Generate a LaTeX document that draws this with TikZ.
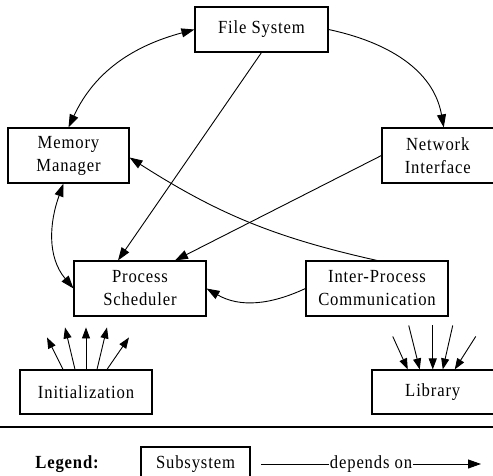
\documentclass[tikz,border=0pt]{standalone}
\usepackage{fontspec}
\setmainfont{Liberation Serif}[LetterSpace=4.6,FakeStretch=0.9]
\usepackage{tikz}
\usetikzlibrary{arrows.meta}
\newcommand{\boxfont}{\fontsize{18.5}{23}\selectfont}
\tikzstyle{subsystem}=[rectangle,draw=black,line width=1.1pt,align=center,inner sep=0pt,font=\boxfont]
\tikzstyle{dep}=[draw,line width=0.9pt,-{Triangle[length=13pt,width=9pt]}]
\tikzstyle{mutualdep}=[draw,line width=0.9pt,{Triangle[length=13pt,width=9pt]}-{Triangle[length=13pt,width=9pt]}]
\tikzstyle{fan}=[draw,line width=0.9pt,-{Triangle[length=11pt,width=8pt]}]

\begin{document}
\begin{tikzpicture}[x=1pt,y=1pt]
    \useasboundingbox (0,0) rectangle (493,-476);

    % First the subsystems
    \node[subsystem,minimum width=133pt,minimum height=45pt] (fs) at (261.5,-29.5) {File System};
    \node[subsystem,minimum width=121pt,minimum height=55pt] (mm) at (68.5,-155.5) {Memory\\Manager};
    \node[subsystem,minimum width=111.5pt,minimum height=55pt] (ni) at (437.75,-155.5) {Network\\Interface};
    \node[subsystem,minimum width=132pt,minimum height=55pt] (ps) at (140,-288.5) {Process\\Scheduler};
    \node[subsystem,minimum width=142pt,minimum height=55pt] (ipc) at (377,-288.5) {Inter-Process\\Communication};
    \node[subsystem,minimum width=132pt,minimum height=44pt] (init) at (86,-392) {Initialization};
    \node[subsystem,minimum width=121.5pt,minimum height=44pt] (lib) at (432.75,-392) {Library};

    % Dependencies between the subsystems
    \path[mutualdep] (fs.west) to[out=195,in=65] (mm.north);
    \path[dep] (fs.east) to[out=-12,in=100] ([xshift=6pt]ni.north);
    \path[dep] (fs.south) -- ([xshift=-22pt]ps.north);
    \path[dep] (ni.west) -- ([xshift=35pt]ps.north);
    \path[dep] (ipc.north) to[bend left=10] ([yshift=-2pt]mm.east);
    \path[mutualdep] ([xshift=-5pt]mm.south) to[out=250,in=130] (ps.west);
    \path[dep] (ipc.west) to[out=205,in=-30] (ps.east);

    % Initialization depends on everything above
    \foreach \n/\a/\b/\h in {1/-23/-39/32, 2/-11/-21/42, 3/0/0/42, 4/11/21/42, 5/21/43/32}{
        \coordinate (up\n) at ([xshift=\b,yshift=\h]init.north);
        \path[fan] ([xshift=\a]init.north) -- (up\n);
    }
    % everything above depends on the Library
    \foreach \n/\a/\b/\h in {1/-25/-40/33, 2/-13/-24/44, 3/0/0/44, 4/10/20/44, 5/22/43/33}{
        \coordinate (down\n) at ([xshift=\b,yshift=\h]lib.north);
        \path[fan] (down\n) -- ([xshift=\a]lib.north);
    }

    % Legend
    \draw[line width=1.5pt] (0,-427) -- (493,-427);
    \node[font=\boxfont\bfseries] (legend) at (67,-464) {Legend:};
    \node[subsystem,minimum width=109pt,minimum height=34pt] (key) at (195.5,-464) {Subsystem};
    \coordinate (keya) at (261,-464);
    \coordinate (keyb) at (481,-464);
    \path[dep] (keya) -- node[fill=white,inner sep=1pt,font=\boxfont] (keytext) {depends on} (keyb);
\end{tikzpicture}
\end{document}
